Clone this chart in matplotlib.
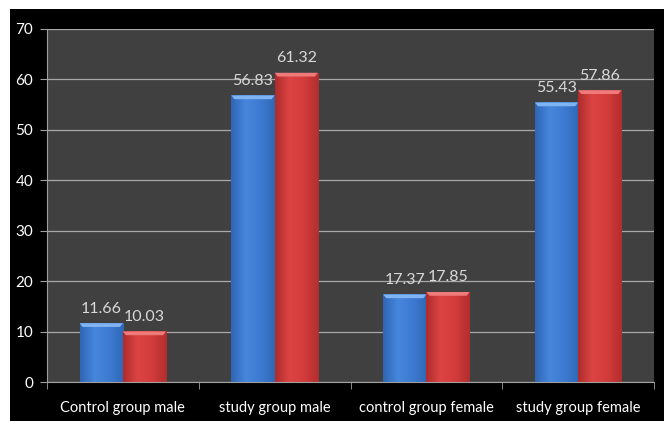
import numpy as np
import matplotlib.pyplot as plt
from matplotlib.colors import LinearSegmentedColormap
from matplotlib.patches import Rectangle

categories = ["Control group male", "study group male", "control group female", "study group female"]
series_a = [11.66, 56.83, 17.37, 55.43]
series_b = [10.03, 61.32, 17.85, 57.86]
y_ticks = [0, 10, 20, 30, 40, 50, 60, 70]

plt.rcParams['font.family'] = ['Lato', 'DejaVu Sans']

fig = plt.figure(figsize=(6.64, 4.21), dpi=100, facecolor="white")
# black panel with the thin white strip at top/left
fig.patches.append(Rectangle((10 / 664, 0), 1, 1 - 9 / 421, transform=fig.transFigure,
                             facecolor="black", edgecolor="none", zorder=-10))

ax = fig.add_axes([47 / 664, 39 / 421, 607 / 664, 353 / 421])
ax.set_facecolor("#404040")

x = np.arange(len(categories))
w = 0.285

blue_cm = LinearSegmentedColormap.from_list("b", ["#2f66b4", "#4686dc", "#3d7bd2", "#3068b5"])
red_cm = LinearSegmentedColormap.from_list("r", ["#b02c2c", "#dc4444", "#d43c3c", "#b22e2e"])
grad = np.linspace(0, 1, 64).reshape(1, -1)

bars_a = ax.bar(x - w / 2, series_a, w, color="#3b78d0", zorder=2)
bars_b = ax.bar(x + w / 2, series_b, w, color="#d23a3a", zorder=2)

for bars, cmap, top in [(bars_a, blue_cm, "#7fb3f2"), (bars_b, red_cm, "#ee7a7a")]:
    for b in bars:
        x0, h, bw = b.get_x(), b.get_height(), b.get_width()
        im = ax.imshow(grad, cmap=cmap, aspect="auto", extent=(x0, x0 + bw, 0, h), zorder=2.5)
        im.set_clip_path(b)
        # light bevel along the top edge
        bev = 0.75
        ax.fill([x0, x0 + bw, x0 + bw - 0.02, x0 + 0.02], [h, h, h - bev, h - bev],
                color=top, zorder=3, lw=0)

for bars, vals in [(bars_a, series_a), (bars_b, series_b)]:
    for b, v in zip(bars, vals):
        ax.annotate(f"{v:.2f}", (b.get_x() + b.get_width() / 2, v), xytext=(0, 5.5),
                    textcoords="offset points", ha="center", va="bottom",
                    color="#d9d9d9", fontsize=11.5, zorder=4)

ax.set_xlim(-0.5, len(categories) - 0.5)
ax.set_ylim(0, 70)
ax.set_yticks(y_ticks)
ax.set_xticks(x)
ax.set_xticklabels(categories)
ax.set_xticks(np.arange(len(categories) + 1) - 0.5, minor=True)
ax.tick_params(axis="x", which="major", length=0, pad=14, colors="white", labelsize=10.5)
ax.tick_params(axis="x", which="minor", length=5, color="#a0a0a0")
ax.tick_params(axis="y", length=5, color="#a0a0a0", labelcolor="white", labelsize=11, pad=5)
ax.yaxis.grid(True, color="#a8a8a8", lw=0.9, zorder=1)
ax.set_axisbelow(True)
for s in ["top", "right"]:
    ax.spines[s].set_visible(False)
for s in ["left", "bottom"]:
    ax.spines[s].set_color("#a0a0a0")

fig.savefig("out.png", dpi=100, facecolor=fig.get_facecolor())
